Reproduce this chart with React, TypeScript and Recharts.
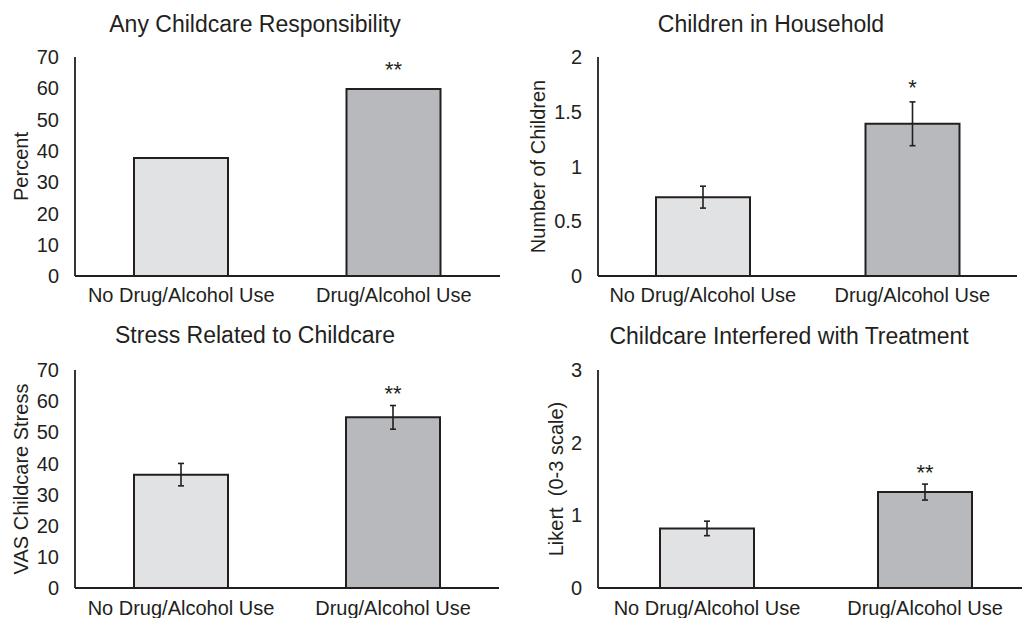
import { BarChart, Bar, XAxis, YAxis, ErrorBar, Cell, LabelList } from "recharts";

const categories = ["No Drug/Alcohol Use", "Drug/Alcohol Use"];

const anyChildcarePct = [37.7, 59.8];
const anyChildcareSig = ["", "**"];

const childrenMean = [0.72, 1.39];
const childrenErr = [0.1, 0.2];
const childrenSig = ["", "*"];

const stressMean = [36.4, 54.8];
const stressErr = [3.6, 3.8];
const stressSig = ["", "**"];

const likertMean = [0.82, 1.32];
const likertErr = [0.1, 0.11];
const likertSig = ["", "**"];

const percentTicks = [0, 10, 20, 30, 40, 50, 60, 70];
const childTicks = [0, 0.5, 1, 1.5, 2];
const likertTicks = [0, 1, 2, 3];

const INK = "#231f20";
const FILLS = ["#e1e2e3", "#b8b9bc"];
const FONT = "'Liberation Sans', Arial, Helvetica, sans-serif";

type PanelProps = {
  left: number;
  top: number;
  width: number;
  height: number;
  title: string;
  titleX: number;
  titleY: number;
  yLabel: string;
  yLabelX: number;
  values: number[];
  errors?: number[];
  sig: string[];
  domain: [number, number];
  ticks: number[];
  marginTop: number;
  marginRight: number;
  yAxisWidth: number;
  xAxisHeight: number;
  xTickMargin: number;
  sigGap: number;
};

function Panel(p: PanelProps) {
  const data = categories.map((c, i) => ({
    category: c,
    value: p.values[i],
    err: p.errors ? p.errors[i] : 0,
    sig: p.sig[i],
  }));
  const plotH = p.height - p.marginTop - p.xAxisHeight;
  const labelY = p.marginTop + plotH / 2;

  // asterisks sit a fixed gap above the error bar (or the bar top)
  const renderSig = (props: any) => {
    const { x, y, width, height, index, value } = props;
    if (!value) return null;
    const v = p.values[index];
    const errPx = p.errors ? (p.errors[index] * height) / v : 0;
    const cy = y - errPx - p.sigGap;
    return (
      <text
        x={x + width / 2}
        y={cy + 12.5}
        textAnchor="middle"
        fontSize={22}
        fill={INK}
        fontFamily={FONT}
      >
        {value}
      </text>
    );
  };

  return (
    <div style={{ position: "absolute", left: p.left, top: p.top, width: p.width, height: p.height }}>
      <div
        style={{
          position: "absolute",
          left: p.titleX - 250,
          width: 500,
          top: p.titleY - 11.3,
          textAlign: "center",
          fontSize: 23,
          lineHeight: "23px",
          color: INK,
          fontFamily: FONT,
          whiteSpace: "nowrap",
        }}
      >
        {p.title}
      </div>
      <BarChart
        width={p.width}
        height={p.height}
        data={data}
        margin={{ top: p.marginTop, right: p.marginRight, left: 0, bottom: 0 }}
      >
        <XAxis
          dataKey="category"
          height={p.xAxisHeight}
          axisLine={{ stroke: INK, strokeWidth: 1.8 }}
          tickLine={false}
          tickSize={0}
          tickMargin={p.xTickMargin}
          interval={0}
          tick={{ fontSize: 20, fill: INK, fontFamily: FONT }}
        />
        <YAxis
          width={p.yAxisWidth}
          domain={p.domain}
          ticks={p.ticks}
          interval={0}
          axisLine={{ stroke: INK, strokeWidth: 1.8 }}
          tickLine={false}
          tickSize={0}
          tickMargin={16}
          tick={{ fontSize: 20, fill: INK, fontFamily: FONT }}
          label={{
            content: () => (
              <text
                x={p.yLabelX}
                y={labelY}
                transform={`rotate(-90, ${p.yLabelX}, ${labelY})`}
                textAnchor="middle"
                dominantBaseline="central"
                fontSize={20}
                fill={INK}
                fontFamily={FONT}
                style={{ whiteSpace: "pre" }}
              >
                {p.yLabel}
              </text>
            ),
          }}
        />
        <Bar dataKey="value" barSize={94} stroke={INK} strokeWidth={2} isAnimationActive={false}>
          {data.map((d, i) => (
            <Cell key={d.category} fill={FILLS[i]} />
          ))}
          {p.errors && (
            <ErrorBar dataKey="err" width={3} stroke={INK} strokeWidth={1.6} isAnimationActive={false} />
          )}
          <LabelList dataKey="sig" content={renderSig} />
        </Bar>
      </BarChart>
    </div>
  );
}

export default function App() {
  return (
    <div
      style={{
        position: "absolute",
        left: 0,
        top: 0,
        width: 1022,
        height: 618,
        overflow: "hidden",
        background: "#fff",
        fontFamily: FONT,
      }}
    >
      <Panel
        left={0}
        top={0}
        width={511}
        height={309}
        title="Any Childcare Responsibility"
        titleX={255}
        titleY={24}
        yLabel="Percent"
        yLabelX={21}
        values={anyChildcarePct}
        sig={anyChildcareSig}
        domain={[0, 70]}
        ticks={percentTicks}
        marginTop={57}
        marginRight={11}
        yAxisWidth={75}
        xAxisHeight={33}
        xTickMargin={12}
        sigGap={24}
      />
      <Panel
        left={511}
        top={0}
        width={511}
        height={309}
        title="Children in Household"
        titleX={260}
        titleY={24.5}
        yLabel="Number of Children"
        yLabelX={27}
        values={childrenMean}
        errors={childrenErr}
        sig={childrenSig}
        domain={[0, 2]}
        ticks={childTicks}
        marginTop={57}
        marginRight={5}
        yAxisWidth={87}
        xAxisHeight={33}
        xTickMargin={12}
        sigGap={19}
      />
      <Panel
        left={0}
        top={309}
        width={511}
        height={309}
        title="Stress Related to Childcare"
        titleX={255}
        titleY={26.5}
        yLabel="VAS Childcare Stress"
        yLabelX={21}
        values={stressMean}
        errors={stressErr}
        sig={stressSig}
        domain={[0, 70]}
        ticks={percentTicks}
        marginTop={61}
        marginRight={12}
        yAxisWidth={75}
        xAxisHeight={30}
        xTickMargin={13}
        sigGap={17}
      />
      <Panel
        left={511}
        top={309}
        width={523}
        height={309}
        title="Childcare Interfered with Treatment"
        titleX={278}
        titleY={27}
        yLabel="Likert  (0-3 scale)"
        yLabelX={45}
        values={likertMean}
        errors={likertErr}
        sig={likertSig}
        domain={[0, 3]}
        ticks={likertTicks}
        marginTop={61}
        marginRight={0}
        yAxisWidth={87}
        xAxisHeight={30}
        xTickMargin={13}
        sigGap={17}
      />
    </div>
  );
}
